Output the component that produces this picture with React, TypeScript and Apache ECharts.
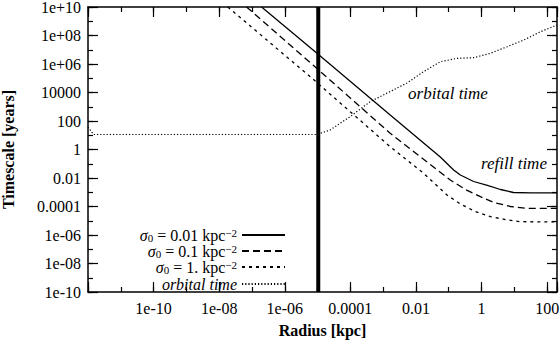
import React, { useEffect, useRef } from 'react';
import * as echarts from 'echarts';

// ---- axis ranges and tick labels ----
const radiusMin = 1e-12;
const radiusMax = 200;
const timeMin = 1e-10;
const timeMax = 1e10;
const xTickExps = [-10, -8, -6, -4, -2, 0, 2];
const xTickLabels = ['1e-10', '1e-08', '1e-06', '0.0001', '0.01', '1', '100'];
const yTickExps = [-10, -8, -6, -4, -2, 0, 2, 4, 6, 8, 10];
const yTickLabels = ['1e-10', '1e-08', '1e-06', '0.0001', '0.01', '1', '100', '10000', '1e+06', '1e+08', '1e+10'];

// ---- series (radius in kpc, timescale in years) ----
const solidR = [1.96e-7, 9.4e-6, 1.64e-3, 0.0553, 0.141, 0.226, 0.575, 1.51, 3.77, 9.4, 31, 200];
const solidT = [1e10, 5.9e6, 264, 0.298, 0.0364, 0.01626, 0.00568, 0.00298, 0.00156, 0.00096, 0.00089, 0.00089];

const dashedR = [6.84e-8, 7.26e-6, 1.64e-3, 0.01355, 0.1117, 0.321, 0.923, 2.35, 7.6, 24.7, 200];
const dashedT = [1e10, 8.5e5, 13.7, 0.313, 0.00724, 0.00156, 4.9e-4, 1.91e-4, 1.0e-4, 7.5e-5, 7.5e-5];

const shortR = [1.83e-8, 6.64e-6, 1.64e-3, 0.0167, 0.0885, 0.226, 0.649, 1.87, 5.36, 15.4, 200];
const shortT = [1e10, 1.04e5, 1.57, 0.0224, 6.4e-4, 1.5e-4, 4.46e-5, 1.92e-5, 1.22e-5, 8.6e-6, 8.2e-6];

const orbitR = [1e-12, 1.47e-12, 1e-10, 1e-8, 1e-6, 9.4e-6, 2.4e-5, 9.8e-5, 4.0e-4, 1.64e-3, 5.3e-3, 0.0171, 0.0553, 0.179, 0.575, 1.86, 6.04, 19.4, 63, 200];
const orbitT = [37.9, 11.3, 11.3, 11.3, 11.3, 11.3, 23.3, 200, 2260, 1.17e4, 4.6e4, 2.9e5, 1.45e6, 2.5e6, 2.77e6, 5.6e6, 1.64e7, 4.8e7, 1.85e8, 5.5e8];

const markerRadius = 1.05e-5;

const seriesNames = ['s001', 's01', 's1', 'orbital'];
const legendTexts = [
  '{i|σ}{sub|0} = 0.01 kpc{sup|−2}',
  '{i|σ}{sub|0} = 0.1 kpc{sup|−2}',
  '{i|σ}{sub|0} = 1. kpc{sup|−2}',
  '{it|orbital time}',
];

const FONT = 'Liberation Serif, DejaVu Serif, serif';
const lg = Math.log10;

function toPairs(rs: number[], ts: number[]) {
  return rs.map((r, i) => [lg(r), lg(ts[i])]);
}

function makeFormatter(exps: number[], labels: string[]) {
  return (v: number) => {
    const k = Math.round(v);
    if (Math.abs(v - k) > 1e-6) return '';
    const idx = exps.indexOf(k);
    return idx >= 0 ? labels[idx] : '';
  };
}

export default function App() {
  const ref = useRef<HTMLDivElement>(null);
  useEffect(() => {
    document.body.style.margin = '0';
    if (!ref.current) return;
    const chart = echarts.init(ref.current, undefined, { renderer: 'svg' });
    const xMin = lg(radiusMin);
    const xMax = lg(radiusMax);
    const yMin = lg(timeMin);
    const yMax = lg(timeMax);
    const black = '#000';
    const labelStyle = { color: black, fontSize: 16, fontFamily: FONT };
    const nameStyle = { color: black, fontSize: 16, fontFamily: FONT, fontWeight: 'bold' as const };
    const majorTick = { show: true, inside: true, length: 10, lineStyle: { color: black, width: 1.2 } };
    const minorTickS = { show: true, inside: true, length: 5, lineStyle: { color: black, width: 1.2 } };
    const mkX = (pos: string, major: boolean, labels: boolean) => ({
      type: 'value', position: pos, min: xMin, max: xMax, interval: major ? 2 : 1,
      axisLine: { show: major, onZero: false, lineStyle: { color: black, width: 1.5 } },
      axisTick: major ? majorTick : minorTickS,
      axisLabel: labels ? { ...labelStyle, margin: 8, formatter: makeFormatter(xTickExps, xTickLabels) } : { show: false },
      splitLine: { show: false },
      ...(labels ? { name: 'Radius [kpc]', nameLocation: 'middle', nameGap: 30, nameTextStyle: nameStyle } : {}),
    });
    const mkY = (pos: string, major: boolean, labels: boolean) => ({
      type: 'value', position: pos, min: yMin, max: yMax, interval: major ? 2 : 1,
      axisLine: { show: major, onZero: false, lineStyle: { color: black, width: 1.5 } },
      axisTick: major ? majorTick : minorTickS,
      axisLabel: labels ? { ...labelStyle, margin: 7, formatter: makeFormatter(yTickExps, yTickLabels) } : { show: false },
      splitLine: { show: false },
      ...(labels ? { name: 'Timescale [years]', nameLocation: 'middle', nameGap: 72, nameTextStyle: nameStyle } : {}),
    });

    const lineStyles = [
      { color: black, width: 1.3, type: 'solid' },
      { color: black, width: 1.3, type: [7, 4] },
      { color: black, width: 1.3, type: [3, 4] },
      { color: black, width: 1.2, type: [1.2, 2] },
    ];
    const dataSets = [
      toPairs(solidR, solidT),
      toPairs(dashedR, dashedT),
      toPairs(shortR, shortT),
      toPairs(orbitR, orbitT),
    ];
    const legendTops = [227, 243, 259, 276];
    const rich = {
      i: { fontStyle: 'italic', fontSize: 16, fontFamily: FONT, color: black, lineHeight: 16 },
      it: { fontStyle: 'italic', fontSize: 16, fontFamily: FONT, color: black, lineHeight: 16 },
      sub: { fontSize: 11, fontFamily: FONT, color: black, verticalAlign: 'bottom', lineHeight: 11 },
      sup: { fontSize: 11, fontFamily: FONT, color: black, verticalAlign: 'top', lineHeight: 11 },
    };

    chart.setOption({
      animation: false,
      textStyle: { fontFamily: FONT },
      grid: { left: 88, right: 3, top: 7, bottom: 49, containLabel: false, outerBoundsMode: 'none' },
      xAxis: [mkX('bottom', true, true), mkX('bottom', false, false), mkX('top', true, false), mkX('top', false, false)],
      yAxis: [mkY('left', true, true), mkY('left', false, false), mkY('right', true, false), mkY('right', false, false)],
      legend: seriesNames.map((n, i) => ({
        data: [n],
        orient: 'vertical',
        right: 274,
        top: legendTops[i],
        padding: 0,
        align: 'right',
        itemWidth: 43,
        itemHeight: 14,
        itemGap: 0,
        selectedMode: false,
        itemStyle: { color: 'rgba(0,0,0,0)', borderWidth: 0, opacity: 0 },
        formatter: () => legendTexts[i],
        textStyle: { color: black, fontSize: 16, fontFamily: FONT, lineHeight: 16, rich },
      })),
      graphic: [
        { type: 'text', x: 448, y: 93, style: { text: 'orbital time', fontSize: 17, fontStyle: 'italic', fontFamily: FONT, fill: black, align: 'center', verticalAlign: 'middle' } },
        { type: 'text', x: 481, y: 163, style: { text: 'refill time', fontSize: 17, fontStyle: 'italic', fontFamily: FONT, fill: black, align: 'left', verticalAlign: 'middle' } },
      ],
      series: [
        ...seriesNames.map((n, i) => ({
          name: n,
          type: 'line',
          xAxisIndex: 0,
          yAxisIndex: 0,
          data: dataSets[i],
          showSymbol: false,
          symbol: 'none',
          smooth: false,
          lineStyle: lineStyles[i],
          itemStyle: { color: black },
          z: 3,
        })),
        {
          name: 'marker',
          type: 'line',
          xAxisIndex: 0,
          yAxisIndex: 0,
          data: [[lg(markerRadius), yMin], [lg(markerRadius), yMax]],
          showSymbol: false,
          symbol: 'none',
          lineStyle: { color: black, width: 4 },
          z: 4,
        },
      ],
    });
    return () => chart.dispose();
  }, []);
  return <div ref={ref} style={{ width: 560, height: 341 }} />;
}
